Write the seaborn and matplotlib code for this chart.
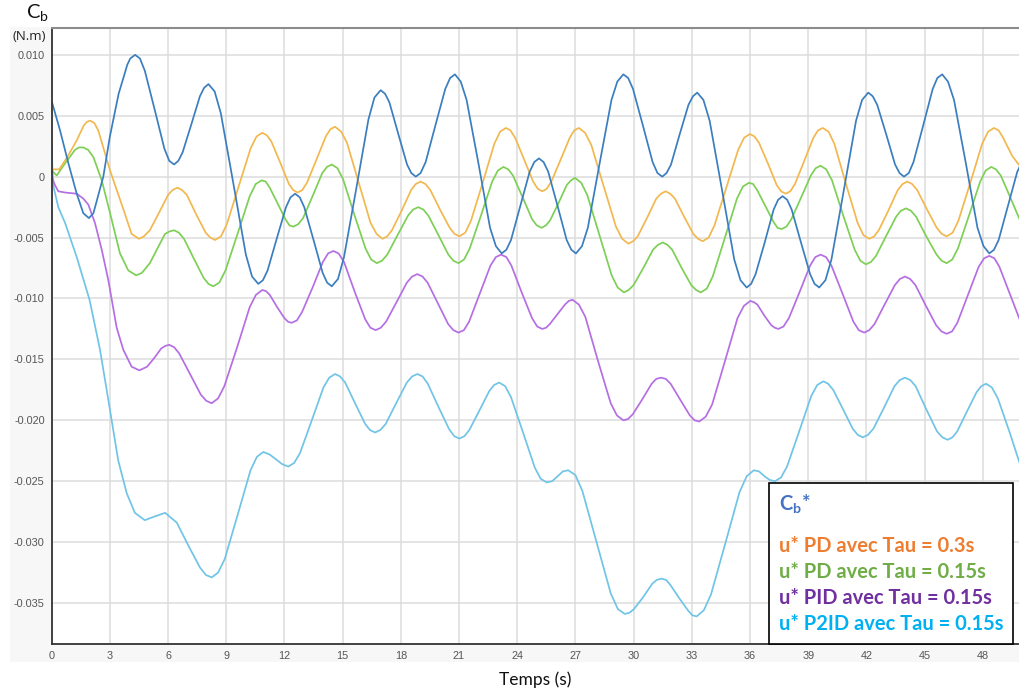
import matplotlib
matplotlib.use("Agg")
import matplotlib.pyplot as plt
import seaborn as sns
import pandas as pd
from matplotlib.lines import Line2D
from matplotlib.patches import Rectangle

# ── data (time s, torque N.m) ────────────────────────────────
cb_star = [
    (0, 0.0062), (0.43, 0.0038), (0.86, 0.0011), (1.29, -0.0014), (1.63, -0.0030), (1.92, -0.0034),
    (2.15, -0.0030), (2.66, 0.0000), (3.0, 0.0033), (3.45, 0.0068), (3.9, 0.0092), (4.30, 0.0100),
    (4.80, 0.0087), (5.31, 0.0055), (5.81, 0.0023), (6.31, 0.0010), (6.75, 0.0020), (7.20, 0.0043),
    (7.64, 0.0066), (8.08, 0.0076), (8.72, 0.0052), (9.37, -0.0006), (10.01, -0.0064), (10.65, -0.0088),
    (11.13, -0.0077), (11.60, -0.0051), (12.08, -0.0025), (12.55, -0.0014), (13.02, -0.0025),
    (13.50, -0.0052), (13.97, -0.0079), (14.44, -0.0090), (15.07, -0.0066), (15.70, -0.0010),
    (16.33, 0.0047), (16.96, 0.0071), (17.41, 0.0061), (17.87, 0.0035), (18.32, 0.0010), (18.77, 0.0000),
    (19.28, 0.0012), (19.78, 0.0042), (20.29, 0.0072), (20.79, 0.0084), (21.39, 0.0063), (22.0, 0.0011),
    (22.60, -0.0042), (23.20, -0.0063), (23.68, -0.0052), (24.16, -0.0024), (24.64, 0.0004),
    (25.12, 0.0015), (25.60, 0.0004), (26.08, -0.0024), (26.55, -0.0052), (27.03, -0.0063),
    (27.64, -0.0042), (28.25, 0.0011), (28.86, 0.0063), (29.47, 0.0084), (29.97, 0.0072), (30.48, 0.0042),
    (30.98, 0.0012), (31.48, 0.0000), (31.93, 0.0010), (32.38, 0.0035), (32.83, 0.0059), (33.28, 0.0069),
    (33.92, 0.0046), (34.56, -0.0011), (35.19, -0.0068), (35.83, -0.0091), (36.29, -0.0080),
    (36.76, -0.0054), (37.22, -0.0027), (37.68, -0.0016), (38.15, -0.0027), (38.63, -0.0054),
    (39.10, -0.0080), (39.57, -0.0091), (40.20, -0.0068), (40.84, -0.0011), (41.47, 0.0046),
    (42.10, 0.0069), (42.56, 0.0059), (43.02, 0.0035), (43.48, 0.0010), (43.94, 0.0000), (44.43, 0.0012),
    (44.93, 0.0042), (45.42, 0.0072), (45.91, 0.0084), (46.52, 0.0063), (47.13, 0.0011), (47.73, -0.0042),
    (48.34, -0.0063), (48.82, -0.0052), (49.30, -0.0024), (49.78, 0.0004), (49.9, 0.0008),
]
# extra readings close to each crest / trough
cb_star_peaks = [
    (4.05, 0.0097), (4.55, 0.0097), (6.06, 0.0013), (6.53, 0.0013), (7.86, 0.0073), (8.40, 0.0070),
    (10.33, -0.0082), (10.89, -0.0085), (12.31, -0.0017), (12.79, -0.0017), (14.20, -0.0087),
    (14.76, -0.0084), (16.64, 0.0065), (17.19, 0.0068), (18.54, 0.0003), (19.02, 0.0003),
    (20.54, 0.0081), (21.09, 0.0078), (22.90, -0.0057), (23.44, -0.0060), (24.88, 0.0012),
    (25.36, 0.0012), (26.79, -0.0060), (27.34, -0.0057), (29.16, 0.0078), (29.72, 0.0081),
    (31.23, 0.0003), (31.70, 0.0003), (33.06, 0.0066), (33.60, 0.0063), (35.51, -0.0085),
    (36.06, -0.0088), (37.45, -0.0019), (37.92, -0.0019), (39.33, -0.0088), (39.89, -0.0085),
    (41.78, 0.0063), (42.33, 0.0066), (43.71, 0.0003), (44.19, 0.0003), (45.66, 0.0081),
    (46.21, 0.0078), (48.04, -0.0057), (48.58, -0.0060),
]

pd_03 = [
    (0, 0.0006), (0.39, 0.0006), (0.8, 0.0016), (1.3, 0.0030), (1.65, 0.0042), (1.98, 0.0046),
    (2.4, 0.0038), (3.01, 0.0005), (3.7, -0.0027), (4.12, -0.0047), (4.5, -0.0051), (5.06, -0.0044),
    (5.52, -0.0030), (6.0, -0.0015), (6.48, -0.0009), (6.97, -0.0015), (7.45, -0.0031), (7.94, -0.0046),
    (8.42, -0.0052), (9.03, -0.0039), (9.64, -0.0008), (10.25, 0.0023), (10.86, 0.0036), (11.32, 0.0029),
    (11.77, 0.0012), (12.23, -0.0006), (12.68, -0.0013), (13.16, -0.0005), (13.65, 0.0014),
    (14.13, 0.0033), (14.61, 0.0041), (15.22, 0.0028), (15.83, -0.0005), (16.44, -0.0038),
    (17.05, -0.0051), (17.54, -0.0044), (18.04, -0.0028), (18.53, -0.0011), (19.02, -0.0004),
    (19.52, -0.0011), (20.02, -0.0027), (20.52, -0.0042), (21.02, -0.0049), (21.62, -0.0036),
    (22.22, -0.0005), (22.82, 0.0027), (23.42, 0.0040), (23.89, 0.0032), (24.36, 0.0014),
    (24.82, -0.0004), (25.29, -0.0012), (25.76, -0.0004), (26.24, 0.0014), (26.71, 0.0032),
    (27.18, 0.0040), (27.82, 0.0026), (28.46, -0.0008), (29.09, -0.0041), (29.73, -0.0055),
    (30.21, -0.0049), (30.69, -0.0034), (31.17, -0.0018), (31.65, -0.0012), (32.13, -0.0018),
    (32.61, -0.0033), (33.08, -0.0047), (33.56, -0.0053), (34.17, -0.0040), (34.78, -0.0009),
    (35.39, 0.0022), (36.0, 0.0035), (36.46, 0.0028), (36.92, 0.0011), (37.38, -0.0007),
    (37.84, -0.0014), (38.32, -0.0006), (38.80, 0.0013), (39.27, 0.0032), (39.75, 0.0040),
    (40.35, 0.0027), (40.95, -0.0006), (41.55, -0.0038), (42.15, -0.0051), (42.64, -0.0044),
    (43.13, -0.0028), (43.62, -0.0011), (44.11, -0.0004), (44.62, -0.0011), (45.13, -0.0027),
    (45.63, -0.0042), (46.14, -0.0049), (46.75, -0.0036), (47.36, -0.0005), (47.97, 0.0027),
    (48.58, 0.0040), (49.05, 0.0032), (49.52, 0.0017), (49.9, 0.0009),
]
pd_03_peaks = [
    (1.82, 0.0045), (2.2, 0.0044), (4.75, -0.0049), (6.23, -0.0011), (6.72, -0.0011),
    (8.18, -0.0050), (8.73, -0.0049), (10.56, 0.0033), (11.09, 0.0034), (12.45, -0.0011),
    (12.92, -0.0011), (14.37, 0.0039), (14.92, 0.0037), (16.75, -0.0047), (17.30, -0.0049),
    (18.77, -0.0006), (19.27, -0.0006), (20.77, -0.0047), (21.32, -0.0046), (23.12, 0.0037),
    (23.65, 0.0038), (25.06, -0.0010), (25.52, -0.0010), (26.94, 0.0038), (27.50, 0.0036),
    (29.41, -0.0051), (29.97, -0.0053), (31.41, -0.0014), (31.89, -0.0014), (33.32, -0.0051),
    (33.87, -0.0050), (35.70, 0.0032), (36.23, 0.0033), (37.61, -0.0012), (38.08, -0.0012),
    (39.51, 0.0038), (40.05, 0.0037), (41.85, -0.0048), (42.40, -0.0049), (43.87, -0.0006),
    (44.36, -0.0006), (45.89, -0.0047), (46.45, -0.0046), (48.28, 0.0037), (48.82, 0.0038),
]

pd_015 = [
    (0, 0.0005), (0.26, 0.0001), (0.69, 0.0011), (1.2, 0.0022), (1.63, 0.0024), (2.15, 0.0016),
    (2.58, -0.0003), (3.01, -0.0030), (3.52, -0.0063), (3.95, -0.0077), (4.35, -0.0081), (5.06, -0.0071),
    (5.84, -0.0047), (6.31, -0.0044), (6.82, -0.0051), (7.32, -0.0067), (7.83, -0.0083), (8.33, -0.0090),
    (8.96, -0.0077), (9.58, -0.0047), (10.21, -0.0016), (10.83, -0.0003), (11.24, -0.0009),
    (11.65, -0.0022), (12.05, -0.0035), (12.46, -0.0041), (12.96, -0.0034), (13.45, -0.0016),
    (13.95, 0.0003), (14.44, 0.0010), (15.02, -0.0002), (15.60, -0.0031), (16.18, -0.0059),
    (16.76, -0.0071), (17.30, -0.0064), (17.83, -0.0048), (18.37, -0.0032), (18.90, -0.0025),
    (19.42, -0.0032), (19.94, -0.0048), (20.45, -0.0064), (20.97, -0.0071), (21.55, -0.0059),
    (22.13, -0.0032), (22.71, -0.0004), (23.29, 0.0008), (23.78, 0.0001), (24.28, -0.0017),
    (24.77, -0.0035), (25.26, -0.0042), (25.69, -0.0036), (26.12, -0.0022), (26.55, -0.0007),
    (26.98, -0.0001), (27.61, -0.0015), (28.24, -0.0048), (28.87, -0.0081), (29.50, -0.0095),
    (30.0, -0.0089), (30.5, -0.0075), (31.0, -0.0060), (31.50, -0.0054), (31.99, -0.0060),
    (32.48, -0.0075), (32.97, -0.0089), (33.46, -0.0095), (34.08, -0.0082), (34.71, -0.0050),
    (35.33, -0.0018), (35.95, -0.0005), (36.37, -0.0011), (36.79, -0.0024), (37.21, -0.0037),
    (37.63, -0.0043), (38.13, -0.0035), (38.64, -0.0017), (39.14, 0.0001), (39.64, 0.0009),
    (40.23, -0.0003), (40.81, -0.0032), (41.40, -0.0060), (41.98, -0.0072), (42.50, -0.0065),
    (43.01, -0.0049), (43.53, -0.0033), (44.04, -0.0026), (44.57, -0.0033), (45.09, -0.0049),
    (45.62, -0.0064), (46.14, -0.0071), (46.72, -0.0059), (47.29, -0.0032), (47.87, -0.0004),
    (48.44, 0.0008), (48.93, 0.0001), (49.42, -0.0017), (49.9, -0.0035),
]
pd_015_peaks = [
    (1.40, 0.0024), (1.88, 0.0022), (4.65, -0.0079), (6.07, -0.0045), (6.56, -0.0046),
    (8.08, -0.0088), (8.64, -0.0087), (10.52, -0.0006), (11.03, -0.0004), (12.26, -0.0040),
    (12.71, -0.0039), (14.19, 0.0008), (14.73, 0.0007), (16.47, -0.0068), (17.03, -0.0069),
    (18.63, -0.0027), (19.16, -0.0027), (20.71, -0.0069), (21.26, -0.0068), (23.0, 0.0005),
    (23.54, 0.0006), (25.01, -0.0040), (25.48, -0.0040), (26.77, -0.0003), (27.30, -0.0005),
    (29.18, -0.0091), (29.75, -0.0093), (31.25, -0.0056), (31.75, -0.0056), (33.22, -0.0093),
    (33.77, -0.0092), (35.64, -0.0008), (36.16, -0.0006), (37.42, -0.0042), (37.88, -0.0041),
    (39.39, 0.0007), (39.93, 0.0006), (41.69, -0.0069), (42.24, -0.0070), (43.78, -0.0028),
    (44.30, -0.0028), (45.88, -0.0069), (46.43, -0.0068), (48.15, 0.0005), (48.68, 0.0006),
]

pid_015 = [
    (0, 0.0000), (0.17, -0.0007), (0.34, -0.0012), (0.69, -0.0013), (1.29, -0.0014), (1.63, -0.0018),
    (1.89, -0.0023), (2.23, -0.0038), (2.58, -0.0060), (2.92, -0.0085), (3.35, -0.0124), (3.69, -0.0142),
    (4.12, -0.0156), (4.52, -0.0159), (4.92, -0.0156), (5.28, -0.0149), (5.65, -0.0141), (6.05, -0.0138),
    (6.57, -0.0145), (7.13, -0.0162), (7.69, -0.0179), (8.25, -0.0186), (8.90, -0.0172), (9.56, -0.0140),
    (10.21, -0.0107), (10.86, -0.0093), (11.24, -0.0097), (11.62, -0.0107), (11.99, -0.0116),
    (12.37, -0.0120), (12.91, -0.0111), (13.45, -0.0091), (13.98, -0.0070), (14.52, -0.0061),
    (15.07, -0.0070), (15.61, -0.0094), (16.16, -0.0117), (16.70, -0.0126), (17.24, -0.0119),
    (17.78, -0.0103), (18.31, -0.0087), (18.85, -0.0080), (19.38, -0.0087), (19.91, -0.0104),
    (20.44, -0.0121), (20.97, -0.0128), (21.52, -0.0119), (22.07, -0.0096), (22.62, -0.0073),
    (23.17, -0.0064), (23.70, -0.0073), (24.23, -0.0095), (24.76, -0.0116), (25.29, -0.0125),
    (25.68, -0.0121), (26.07, -0.0113), (26.46, -0.0105), (26.85, -0.0101), (27.51, -0.0115),
    (28.16, -0.0151), (28.82, -0.0186), (29.47, -0.0200), (29.96, -0.0195), (30.44, -0.0183),
    (30.93, -0.0170), (31.41, -0.0165), (31.91, -0.0170), (32.40, -0.0183), (32.90, -0.0196),
    (33.39, -0.0201), (34.05, -0.0187), (34.70, -0.0152), (35.36, -0.0116), (36.02, -0.0102),
    (36.38, -0.0105), (36.74, -0.0114), (37.10, -0.0122), (37.46, -0.0125), (38.01, -0.0116),
    (38.55, -0.0095), (39.10, -0.0073), (39.64, -0.0064), (40.20, -0.0073), (40.77, -0.0096),
    (41.33, -0.0119), (41.89, -0.0128), (42.42, -0.0121), (42.94, -0.0105), (43.47, -0.0089),
    (43.99, -0.0082), (44.53, -0.0089), (45.07, -0.0106), (45.60, -0.0122), (46.14, -0.0129),
    (46.69, -0.0120), (47.24, -0.0097), (47.79, -0.0074), (48.34, -0.0065), (48.86, -0.0074),
    (49.37, -0.0095), (49.9, -0.0117),
]
pid_015_peaks = [
    (5.85, -0.0139), (6.31, -0.0140), (7.97, -0.0184), (8.58, -0.0182), (10.53, -0.0097),
    (11.05, -0.0094), (12.18, -0.0119), (12.64, -0.0118), (14.25, -0.0063), (14.79, -0.0063),
    (16.43, -0.0124), (16.97, -0.0124), (18.58, -0.0082), (19.12, -0.0082), (20.71, -0.0126),
    (21.25, -0.0126), (22.90, -0.0066), (23.44, -0.0066), (25.03, -0.0123), (25.49, -0.0124),
    (26.66, -0.0102), (27.18, -0.0105), (29.14, -0.0196), (29.71, -0.0199), (31.17, -0.0166),
    (31.66, -0.0166), (33.14, -0.0200), (33.72, -0.0197), (35.69, -0.0106), (36.20, -0.0103),
    (37.28, -0.0124), (37.73, -0.0123), (39.37, -0.0066), (39.92, -0.0066), (41.61, -0.0126),
    (42.15, -0.0126), (43.73, -0.0084), (44.26, -0.0084), (45.87, -0.0127), (46.42, -0.0127),
    (48.07, -0.0067), (48.60, -0.0067),
]

p2id_015 = [
    (0, 0.0025), (0.04, 0.0005), (0.09, -0.0008), (0.34, -0.0025), (0.69, -0.0038), (1.29, -0.0066),
    (1.80, -0.0093), (1.95, -0.0101), (2.49, -0.0142), (3.01, -0.0192), (3.43, -0.0233), (3.87, -0.0260),
    (4.29, -0.0276), (4.80, -0.0282), (5.3, -0.0279), (5.85, -0.0276), (6.45, -0.0284), (7.05, -0.0303),
    (7.65, -0.0321), (8.25, -0.0329), (8.92, -0.0314), (9.58, -0.0278), (10.25, -0.0241),
    (10.91, -0.0226), (11.23, -0.0228), (11.56, -0.0232), (11.88, -0.0236), (12.20, -0.0238),
    (12.80, -0.0227), (13.41, -0.0200), (14.01, -0.0173), (14.61, -0.0162), (15.13, -0.0169),
    (15.64, -0.0186), (16.16, -0.0203), (16.67, -0.0210), (17.22, -0.0203), (17.76, -0.0186),
    (18.31, -0.0169), (18.85, -0.0162), (19.39, -0.0170), (19.94, -0.0189), (20.48, -0.0207),
    (21.02, -0.0215), (21.53, -0.0208), (22.05, -0.0192), (22.56, -0.0176), (23.07, -0.0169),
    (23.68, -0.0181), (24.30, -0.0210), (24.91, -0.0239), (25.52, -0.0251), (25.80, -0.0250),
    (26.08, -0.0246), (26.35, -0.0242), (26.63, -0.0241), (27.36, -0.0258), (28.09, -0.0300),
    (28.82, -0.0342), (29.55, -0.0359), (30.02, -0.0355), (30.50, -0.0345), (30.97, -0.0334),
    (31.44, -0.0330), (31.89, -0.0335), (32.35, -0.0346), (32.80, -0.0356), (33.25, -0.0361),
    (33.99, -0.0343), (34.73, -0.0301), (35.46, -0.0259), (36.2, -0.0241), (36.47, -0.0242),
    (36.75, -0.0246), (37.02, -0.0249), (37.29, -0.0250), (37.91, -0.0238), (38.54, -0.0209),
    (39.16, -0.0180), (39.78, -0.0168), (40.29, -0.0175), (40.80, -0.0191), (41.30, -0.0207),
    (41.81, -0.0214), (42.36, -0.0207), (42.90, -0.0190), (43.45, -0.0172), (43.99, -0.0165),
    (44.54, -0.0172), (45.09, -0.0191), (45.64, -0.0209), (46.19, -0.0216), (46.69, -0.0209),
    (47.18, -0.0193), (47.68, -0.0177), (48.17, -0.0170), (48.78, -0.0182), (49.39, -0.0210),
    (49.9, -0.0235),
]
p2id_015_peaks = [
    (7.95, -0.0327), (8.58, -0.0325), (10.58, -0.0230), (12.50, -0.0235), (14.31, -0.0165),
    (14.87, -0.0164), (16.41, -0.0208), (16.94, -0.0208), (18.58, -0.0164), (19.12, -0.0164),
    (20.75, -0.0213), (21.28, -0.0213), (22.81, -0.0171), (23.38, -0.0172), (25.21, -0.0248),
    (27.0, -0.0245), (29.19, -0.0355), (29.79, -0.0358), (31.20, -0.0331), (31.67, -0.0331),
    (33.02, -0.0360), (33.62, -0.0356), (35.83, -0.0246), (37.60, -0.0247), (39.47, -0.0171),
    (40.03, -0.0170), (41.56, -0.0212), (42.08, -0.0212), (43.72, -0.0167), (44.27, -0.0167),
    (45.92, -0.0214), (46.44, -0.0214), (47.92, -0.0172), (48.47, -0.0173),
]

series_names = ["Cb*", "PD 0.3", "PD 0.15", "PID 0.15", "P2ID 0.15"]
line_colors = ["#3a7ebf", "#f2b84f", "#7dcf55", "#b56ee3", "#70c4e6"]

legend_labels = ["u* PD avec Tau = 0.3s", "u* PD avec Tau = 0.15s",
                 "u* PID avec Tau = 0.15s", "u* P2ID avec Tau = 0.15s"]
legend_colors = ["#ed7d31", "#70ad47", "#7030a0", "#00b0f0"]

x_ticks = list(range(0, 49, 3))
y_ticks = [0.010, 0.005, 0, -0.005, -0.010, -0.015, -0.020, -0.025, -0.030, -0.035]
y_tick_labels = ["0.010", "0.005", "0", "-0.005", "-0.010", "-0.015",
                 "-0.020", "-0.025", "-0.030", "-0.035"]

# ── long table for seaborn ──────────────────────────────────
all_pts = [cb_star + cb_star_peaks, pd_03 + pd_03_peaks, pd_015 + pd_015_peaks,
           pid_015 + pid_015_peaks, p2id_015 + p2id_015_peaks]
rows = []
for name, pts in zip(series_names, all_pts):
    for t, v in sorted(pts):
        rows.append({"t": t, "v": v, "serie": name})
df = pd.DataFrame(rows)

sns.set_style("white")
plt.rcParams["font.family"] = ["Liberation Sans", "DejaVu Sans"]
plt.rcParams["mathtext.fontset"] = "custom"
plt.rcParams["mathtext.rm"] = "Lato"

fig = plt.figure(figsize=(10.19, 6.92), dpi=100)
# light grey panel behind the tick labels
fig.patches.append(Rectangle((10 / 1019, 30 / 692), 1, (662 - 27) / 692,
                             transform=fig.transFigure, facecolor="#f7f7f7",
                             edgecolor="none", zorder=-10))
ax = fig.add_axes([51.7 / 1019, (692 - 644.3) / 692, 1 - 51.7 / 1019, (644.3 - 27.7) / 692])
ax.set_zorder(1)
ax.set_facecolor("white")

sns.lineplot(data=df, x="t", y="v", hue="serie", palette=dict(zip(series_names, line_colors)),
             hue_order=series_names[::-1], estimator=None, sort=True, linewidth=1.25,
             legend=False, ax=ax)

ax.set_xlim(0, 49.87)
ax.set_ylim(-0.03839, 0.01223)
ax.set_xticks(x_ticks)
ax.set_xticklabels([str(x) for x in x_ticks])
ax.set_yticks(y_ticks)
ax.set_yticklabels(y_tick_labels)
ax.set_xlabel("")
ax.set_ylabel("")
ax.grid(True, color="#dcdcdc", linewidth=1.1)
ax.tick_params(axis="both", direction="out", length=3, width=1, color="#333333",
               labelsize=7.8, labelcolor="#555555", pad=2)

for side in ["left", "bottom"]:
    ax.spines[side].set_color("#333333")
    ax.spines[side].set_linewidth(1.3)
ax.spines["top"].set_color("#8c8c8c")
ax.spines["top"].set_linewidth(1.5)
ax.spines["right"].set_visible(False)

# axis titles
fig.text(37 / 1019, 1 - 13 / 692, "C$_\\mathregular{b}$", family="Lato", fontsize=14.5,
         ha="center", va="center", color="#111111")
fig.text(29 / 1019, 1 - 37 / 692, "(N.m)", family="Open Sans", fontsize=9.5,
         ha="center", va="center", color="#222222")
fig.text(535 / 1019, 1 - 680 / 692, "Temps (s)", family="Lato", fontsize=12.5,
         ha="center", va="center", color="#111111")

# legend box
handles = [Line2D([], [], linestyle="none") for _ in legend_labels]
leg = ax.legend(handles, legend_labels, title="C$_\\mathregular{b}$*\n", loc="lower right",
                bbox_to_anchor=(0.994, 0.0), borderaxespad=0, handlelength=0, handletextpad=0,
                frameon=True, fancybox=False, framealpha=1, edgecolor="black",
                borderpad=0.5, labelspacing=0.3,
                prop={"family": "Lato", "weight": "bold", "size": 14.5},
                title_fontproperties={"family": "Lato", "weight": "bold", "size": 14.5})
leg._legend_box.align = "left"
leg.get_frame().set_linewidth(1.2)
leg.get_title().set_color("#4472c4")
leg.get_title().set_linespacing(0.6)
for txt, c in zip(leg.get_texts(), legend_colors):
    txt.set_color(c)

fig.savefig("out.png", dpi=100)
